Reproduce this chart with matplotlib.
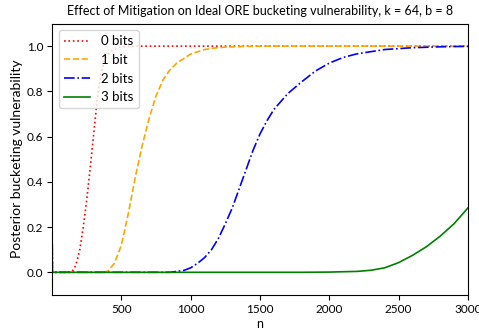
import matplotlib.pyplot as plt

plt.rcParams['font.family'] = ['Lato', 'DejaVu Sans']

# posterior bucketing vulnerability vs number of observed values n
n_0bits = [1, 2, 100, 140, 160, 180, 200, 225, 250, 275, 300, 325, 350, 375, 400, 450, 500, 600, 3000]
v_0bits = [0.125, 0.0, 0.0, 0.002, 0.015, 0.05, 0.1, 0.2, 0.32, 0.46, 0.61, 0.76, 0.87, 0.93, 0.962, 0.988, 0.997, 1.0, 1.0]

n_1bit = [1, 2, 300, 350, 400, 450, 500, 550, 600, 650, 700, 750, 800, 850, 900, 1000, 1100, 1200, 1400, 1600, 3000]
v_1bit = [0.125, 0.0, 0.0, 0.0, 0.004, 0.04, 0.12, 0.26, 0.42, 0.56, 0.68, 0.78, 0.85, 0.895, 0.925, 0.965, 0.985, 0.994, 0.999, 1.0, 1.0]

n_2bits = [1, 2, 850, 950, 1000, 1050, 1100, 1150, 1200, 1250, 1300, 1350, 1400, 1450, 1500, 1550, 1600,
           1700, 1800, 1900, 2000, 2100, 2200, 2400, 2600, 2800, 3000]
v_2bits = [0.125, 0.0, 0.0, 0.008, 0.02, 0.04, 0.065, 0.1, 0.15, 0.215, 0.285, 0.37, 0.455, 0.54, 0.612, 0.67, 0.72,
           0.79, 0.842, 0.89, 0.925, 0.95, 0.966, 0.985, 0.993, 0.997, 0.999]

n_3bits = [1, 2, 1800, 2000, 2200, 2300, 2400, 2500, 2600, 2700, 2800, 2900, 3000]
v_3bits = [0.125, 0.0, 0.0, 0.001, 0.004, 0.009, 0.02, 0.043, 0.075, 0.113, 0.16, 0.215, 0.285]

fig = plt.figure(figsize=(4.79, 3.31), dpi=100)
ax = fig.add_axes([0.109, 0.109, 0.868, 0.82])

ax.plot(n_0bits, v_0bits, ':', color='red', lw=1.2, label='0 bits')
ax.plot(n_1bit, v_1bit, '--', color='orange', lw=1.2, label='1 bit')
ax.plot(n_2bits, v_2bits, '-.', color='blue', lw=1.2, label='2 bits')
ax.plot(n_3bits, v_3bits, '-', color='green', lw=1.2, label='3 bits')

ax.set_xlim(1, 3000)
ax.set_ylim(-0.1, 1.1)
ax.set_xticks([500, 1000, 1500, 2000, 2500, 3000])
ax.set_yticks([0.0, 0.2, 0.4, 0.6, 0.8, 1.0])
ax.tick_params(labelsize=8.5, pad=3)

ax.set_xlabel('n', fontsize=9, labelpad=2)
ax.set_ylabel('Posterior bucketing vulnerability', fontsize=10, labelpad=3)
ax.set_title('Effect of Mitigation on Ideal ORE bucketing vulnerability, k = 64, b = 8', fontsize=9)
ax.legend(loc='upper left', fontsize=9.5)

fig.savefig('out.png', dpi=100)
